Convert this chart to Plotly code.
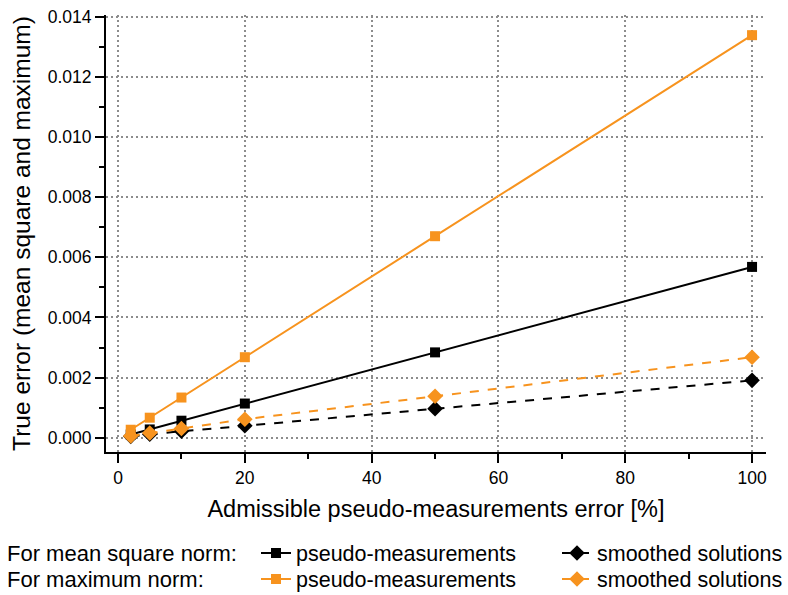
import plotly.graph_objects as go

x_vals = [2, 5, 10, 20, 50, 100]
ms_pseudo = [0.00011, 0.00028, 0.00057, 0.00114, 0.00284, 0.00568]
ms_smooth = [0.00005, 0.00012, 0.00022, 0.00040, 0.00097, 0.00191]
max_pseudo = [0.00027, 0.00067, 0.00134, 0.00268, 0.00670, 0.01338]
max_smooth = [0.00006, 0.00016, 0.00031, 0.00062, 0.00138, 0.00268]

ORANGE = "#F7931E"
FONT = "Liberation Sans, Arial, sans-serif"
LEG_SIZE = 21.5
GRID = "#8c8c8c"

fig = go.Figure()
fig.add_trace(go.Scatter(x=x_vals, y=ms_pseudo, mode="lines+markers", name="pseudo-measurements",
                         line=dict(color="black", width=2), marker=dict(symbol="square", size=10, color="black"),
                         legend="legend"))
fig.add_trace(go.Scatter(x=x_vals, y=ms_smooth, mode="lines+markers", name="smoothed solutions",
                         line=dict(color="black", width=2, dash="dash"), marker=dict(symbol="diamond", size=12, color="black"),
                         legend="legend2"))
fig.add_trace(go.Scatter(x=x_vals, y=max_pseudo, mode="lines+markers", name="pseudo-measurements",
                         line=dict(color=ORANGE, width=2), marker=dict(symbol="square", size=10, color=ORANGE),
                         legend="legend3"))
fig.add_trace(go.Scatter(x=x_vals, y=max_smooth, mode="lines+markers", name="smoothed solutions",
                         line=dict(color=ORANGE, width=2, dash="dash"), marker=dict(symbol="diamond", size=12, color=ORANGE),
                         legend="legend4"))

def leg(xpx, ypx):
    return dict(orientation="h", xref="container", yref="container", xanchor="left", yanchor="middle",
                x=xpx / 788, y=1 - ypx / 595,
                font=dict(family=FONT, size=LEG_SIZE, color="black"),
                bgcolor="rgba(0,0,0,0)", itemwidth=30, tracegroupgap=0, borderwidth=0)

fig.update_layout(
    width=788, height=595,
    margin=dict(l=106, r=22, t=15, b=143, autoexpand=False),
    paper_bgcolor="white", plot_bgcolor="white",
    font=dict(family=FONT, color="black"),
    legend=leg(256, 553),
    legend2=leg(557, 553),
    legend3=leg(256, 579),
    legend4=leg(557, 579),
    xaxis=dict(range=[-1.9, 102.2], tickmode="array", tickvals=[0, 20, 40, 60, 80, 100],
               automargin=False,
               showline=True, linecolor="black", linewidth=2, mirror=False,
               ticks="outside", ticklen=9, tickwidth=2, tickcolor="black",
               minor=dict(dtick=10, tick0=0, ticks="outside", ticklen=5, tickwidth=2, tickcolor="black", showgrid=False),
               showgrid=True, gridcolor=GRID, griddash="1.5px,3.5px", gridwidth=1.5, zeroline=False,
               tickfont=dict(family=FONT, size=17.5),
               title=dict(text="Admissible pseudo-measurements error [%]", font=dict(family=FONT, size=23.5), standoff=14)),
    yaxis=dict(range=[-0.00047, 0.01405], tickmode="array",
               tickvals=[0, 0.002, 0.004, 0.006, 0.008, 0.010, 0.012, 0.014], tickformat=".3f",
               automargin=False,
               showline=True, linecolor="black", linewidth=2, mirror=False,
               ticks="outside", ticklen=9, tickwidth=2, tickcolor="black",
               minor=dict(dtick=0.001, tick0=0, ticks="outside", ticklen=5, tickwidth=2, tickcolor="black", showgrid=False),
               showgrid=True, gridcolor=GRID, griddash="1.5px,3.5px", gridwidth=1.5, zeroline=False,
               tickfont=dict(family=FONT, size=17.5),
               title=dict(text="True error (mean square and maximum)", font=dict(family=FONT, size=24.5), standoff=10)),
    showlegend=True,
)

fig.add_annotation(text="For mean square norm:", xref="paper", yref="paper", x=(5 - 106) / 660, y=(452 - 553) / 437,
                   xanchor="left", yanchor="middle", showarrow=False, font=dict(family=FONT, size=22, color="black"))
fig.add_annotation(text="For maximum norm:", xref="paper", yref="paper", x=(5 - 106) / 660, y=(452 - 579) / 437,
                   xanchor="left", yanchor="middle", showarrow=False, font=dict(family=FONT, size=22, color="black"))

fig.write_html("out.html")
